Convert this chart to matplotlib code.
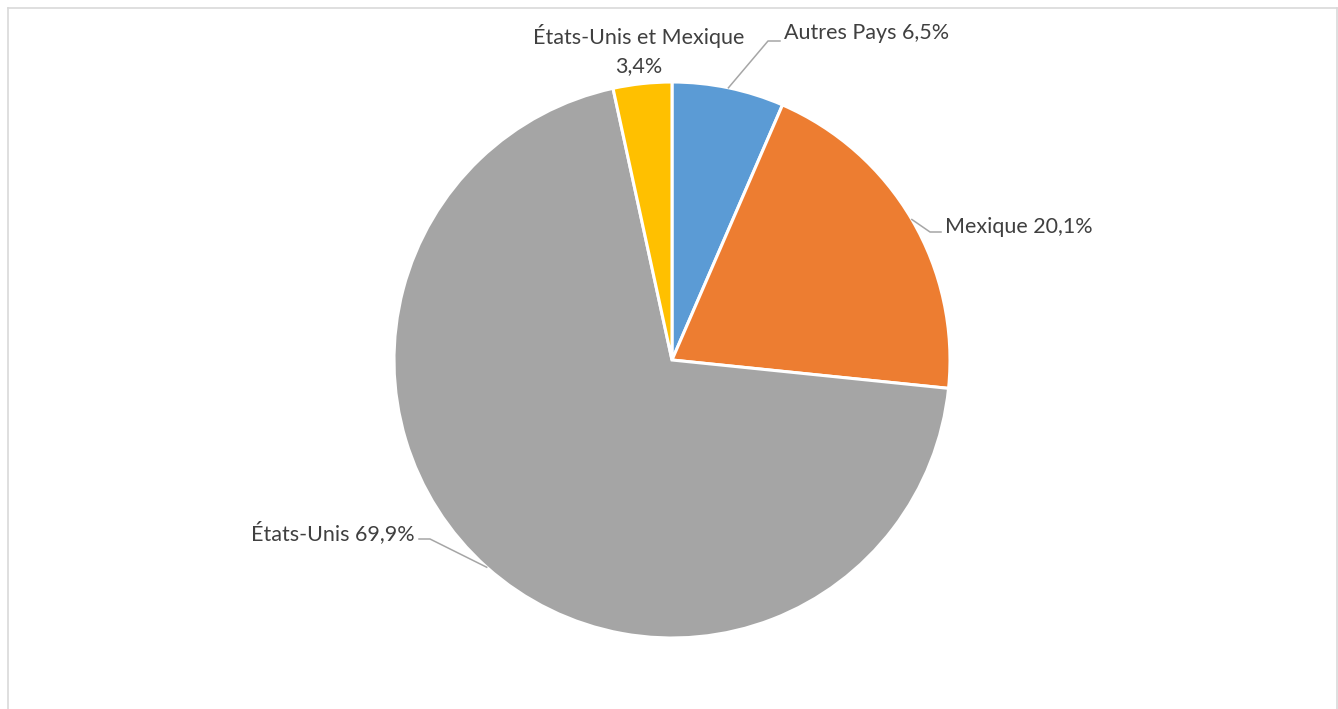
import numpy as np
import matplotlib
matplotlib.use("Agg")
import matplotlib.pyplot as plt
from matplotlib.lines import Line2D

# Répartition (%)
categories = ["Autres Pays", "Mexique", "États-Unis", "États-Unis et Mexique"]
values = [6.5, 20.1, 69.9, 3.4]
value_labels = ["6,5%", "20,1%", "69,9%", "3,4%"]
colors = ["#5B9BD5", "#ED7D31", "#A5A5A5", "#FFC000"]

W, H = 1338, 709
plt.rcParams["font.family"] = ["Lato", "DejaVu Sans"]

fig = plt.figure(figsize=(W / 100, H / 100), dpi=100)
ax = fig.add_axes([0, 0, 1, 1])

cx, cy, r = 672, H - 360, 278
wedges, _ = ax.pie(values, colors=colors, startangle=90, counterclock=False,
                   center=(cx, cy), radius=r,
                   wedgeprops=dict(edgecolor="white", linewidth=2.2))
ax.set_xlim(0, W)
ax.set_ylim(0, H)
ax.set_aspect("equal")
ax.axis("off")

text_color = "#404040"
line_color = "#A6A6A6"
fs = 15.5

def edge_point(i):
    w = wedges[i]
    ang = np.deg2rad((w.theta1 + w.theta2) / 2)
    return cx + r * np.cos(ang), cy + r * np.sin(ang)

# Autres Pays
x0, y0 = edge_point(0)
ax.plot([x0, 768, 780], [y0, H - 41, H - 41], color=line_color, lw=1.1)
ax.text(784, H - 33, f"{categories[0]} {value_labels[0]}", ha="left", va="center",
        fontsize=fs, color=text_color)

# Mexique
x0, y0 = edge_point(1)
ax.plot([x0, 930, 941], [y0, H - 232, H - 232], color=line_color, lw=1.1)
ax.text(945, H - 227, f"{categories[1]} {value_labels[1]}", ha="left", va="center",
        fontsize=fs, color=text_color)

# États-Unis
x0, y0 = edge_point(2)
ax.plot([x0, 430, 419], [y0, H - 539, H - 539], color=line_color, lw=1.1)
ax.text(415, H - 533, f"{categories[2]} {value_labels[2]}", ha="right", va="center",
        fontsize=fs, color=text_color)

# États-Unis et Mexique
ax.text(639, H - 50, f"{categories[3]}\n{value_labels[3]}", ha="center", va="center",
        fontsize=fs, color=text_color, linespacing=1.55)

# Cadre du graphique
bc = "#D9D9D9"
for xs, ys in [([8, 1337], [H - 8, H - 8]), ([8, 8], [0, H - 8]), ([1337, 1337], [0, H - 8])]:
    ax.add_line(Line2D(xs, ys, color=bc, lw=1.2, clip_on=False))

fig.savefig("out.png", dpi=100, facecolor="white")
